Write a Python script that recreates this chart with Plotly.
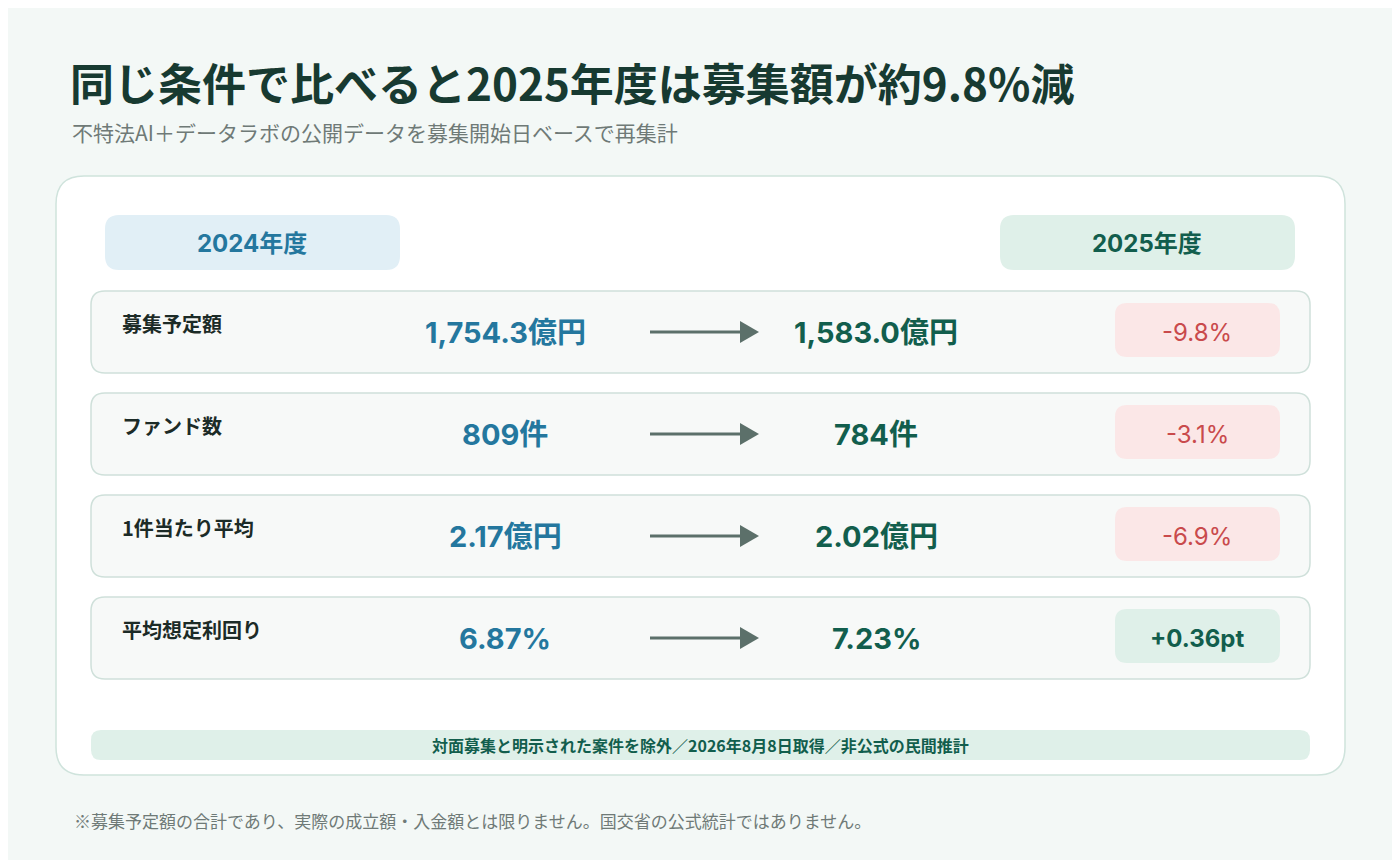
import plotly.graph_objects as go

metrics = ["募集予定額", "ファンド数", "1件当たり平均", "平均想定利回り"]
values_2024 = ["1,754.3億円", "809件", "2.17億円", "6.87%"]
values_2025 = ["1,583.0億円", "784件", "2.02億円", "7.23%"]
changes = ["-9.8%", "-3.1%", "-6.9%", "+0.36pt"]
change_up = [False, False, False, True]
year_labels = ["2024年度", "2025年度"]

FONT = "Inter, Noto Sans CJK JP"
JP = "Noto Sans CJK JP"
BLUE = "#24779e"; GREEN = "#125e4d"; RED = "#c94a4c"

def rr(x0, y0, x1, y1, r):
    return (f"M{x0+r},{y0} L{x1-r},{y0} Q{x1},{y0} {x1},{y0+r} L{x1},{y1-r} Q{x1},{y1} {x1-r},{y1} "
            f"L{x0+r},{y1} Q{x0},{y1} {x0},{y1-r} L{x0},{y0+r} Q{x0},{y0} {x0+r},{y0} Z")

shapes = []; ann = []
def box(x0, y0, x1, y1, r, fill, line=None, w=1.5):
    shapes.append(dict(type="path", path=rr(x0, y0, x1, y1, r), fillcolor=fill,
                       line=dict(color=line or "rgba(0,0,0,0)", width=w if line else 0), layer="below"))
def txt(x, y, s, size, color, bold=False, anchor="center", font=FONT):
    ann.append(dict(x=x, y=y, text=f"<b>{s}</b>" if bold else s, showarrow=False, xanchor=anchor,
                    yanchor="middle", font=dict(size=size, color=color, family=font)))

txt(68, 82, "同じ条件で比べると2025年度は募集額が約9.8%減", 44, "#173a31", True, "left", JP)
txt(70, 132, "不特法AI＋データラボの公開データを募集開始日ベースで再集計", 21, "#6f7a77", False, "left", JP)
txt(72, 820, "※募集予定額の合計であり、実際の成立額・入金額とは限りません。国交省の公式統計ではありません。", 17, "#6f7a77", False, "left", JP)

box(56, 176, 1345, 775, 28, "#ffffff", "#cfe3dc")
box(105, 215, 400, 270, 14, "#e1eff6")
txt(252, 243, year_labels[0], 24, BLUE, True)
box(1000, 215, 1295, 270, 14, "#dff0e9")
txt(1147, 243, year_labels[1], 24, GREEN, True)

for i, m in enumerate(metrics):
    top = 291 + 102 * i; cy = top + 41
    box(91, top, 1310, top + 82, 14, "#f7f9f8", "#cfe0da")
    txt(120, top + 32, m, 20, "#1c2b27", True, "left", JP)
    txt(505, cy, values_2024[i], 29, BLUE, True)
    txt(876, cy, values_2025[i], 29, GREEN, True)
    shapes.append(dict(type="line", x0=650, x1=742, y0=cy, y1=cy, line=dict(color="#5c706a", width=3)))
    shapes.append(dict(type="path", path=f"M740,{cy-11} L759,{cy} L740,{cy+11} Z",
                       fillcolor="#5c706a", line=dict(width=0)))
    up = change_up[i]
    box(1115, top + 12, 1280, top + 66, 12, "#dff0e9" if up else "#fbe7e7")
    txt(1197, cy, changes[i], 24, GREEN if up else RED, up)

box(91, 730, 1310, 760, 10, "#dff0e9")
txt(700, 745, "対面募集と明示された案件を除外／2026年8月8日取得／非公式の民間推計", 16, GREEN, True, "center", JP)

fig = go.Figure()
fig.update_layout(width=1400, height=860, margin=dict(l=0, r=0, t=0, b=0),
                  paper_bgcolor="#f3f8f6", plot_bgcolor="rgba(0,0,0,0)",
                  xaxis=dict(range=[8, 1408], visible=False, fixedrange=True),
                  yaxis=dict(range=[868, 8], visible=False, fixedrange=True),
                  shapes=shapes, annotations=ann, showlegend=False)
fig.write_html("out.html")
